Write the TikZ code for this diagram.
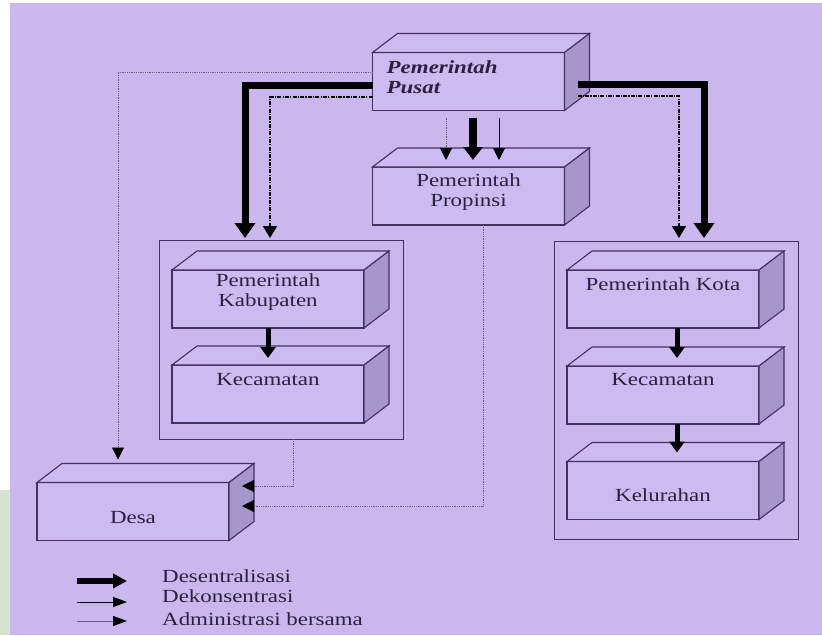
\documentclass[tikz,border=0pt]{standalone}
\usepackage{fontspec}
\setmainfont{Liberation Serif}[FakeStretch=1.24]
\usetikzlibrary{arrows.meta,calc,positioning}
\definecolor{latar}{RGB}{201,183,238}
\definecolor{muka}{RGB}{204,187,240}
\definecolor{sisi}{RGB}{166,150,204}
\definecolor{garis}{RGB}{66,50,96}
\definecolor{huruf}{RGB}{42,33,64}
\definecolor{titik}{RGB}{105,92,128}
\definecolor{hijau}{RGB}{214,226,210}
\tikzset{
    kotak/.style={draw=garis,fill=muka,line width=1.1pt,minimum width=192pt,minimum height=58pt,inner sep=0pt,outer sep=0pt},
    wadah/.style={draw=garis,line width=1pt,inner sep=0pt,outer sep=0pt},
    teks/.style={text=huruf,font=\fontsize{18.5}{20}\selectfont,align=center,inner sep=0pt},
    desen/.style={line width=7pt,-{Triangle[width=20pt,length=15pt]}},
    desenkecil/.style={line width=5pt,-{Triangle[width=15pt,length=11pt]}},
    dekon/.style={line width=1.6pt,dash pattern=on 4pt off 1.2pt on 1.2pt off 1.2pt,-{Triangle[width=14pt,length=12pt]}},
    tipis/.style={line width=1pt,-{Triangle[width=12pt,length=12pt]}},
    admin/.style={titik,line width=0.8pt,densely dotted,-{Triangle[width=12pt,length=12pt,color=black]}}
}
\newcommand{\balok}[1]{%
    \draw[garis,line width=1.1pt,fill=muka] (#1.north west) -- ++(25,-19) -- ($(#1.north east)+(25,-19)$) -- (#1.north east) -- cycle;
    \draw[garis,line width=1.1pt,fill=sisi] (#1.north east) -- ++(25,-19) -- ($(#1.south east)+(25,-19)$) -- (#1.south east) -- cycle;}

\begin{document}
\begin{tikzpicture}[x=1pt,y=-1pt]
    \useasboundingbox (0,0) rectangle (822,635);
    \fill[latar] (0,0) rectangle (822,635);
    \fill[white] (0,0) rectangle (822,3);
    \fill[white] (0,0) rectangle (10,635);
    \fill[hijau] (0,490) rectangle (10,635);

    \node[wadah,minimum width=244pt,minimum height=199pt] (wadahkab) at (281,339.5) {};
    \node[wadah,minimum width=244pt,minimum height=298pt] (wadahkota) at (676,390) {};

    \node[kotak] (pusat) at (468.5,81.5) {};
    \node[kotak] (prop) at (468.5,196) {};
    \node[kotak] (kab) at (268,299) {};
    \node[kotak] (kecL) at (268,394) {};
    \node[kotak] (kota) at (663,299) {};
    \node[kotak] (kecR) at (663,395) {};
    \node[kotak] (kel) at (663,490.5) {};
    \node[kotak] (desa) at (133,511.5) {};
    \foreach \b in {pusat,prop,kab,kecL,kota,kecR,kel,desa} {\balok{\b}}

    \node[teks,anchor=west,align=left,font=\fontsize{18.5}{20}\selectfont\bfseries\itshape] at ([xshift=14pt,yshift=4.5pt]pusat.west) {Pemerintah\\Pusat};
    \node[teks] at ([yshift=3.5pt]prop.center) {Pemerintah\\Propinsi};
    \node[teks] at ([yshift=6.5pt]kab.center) {Pemerintah\\Kabupaten};
    \node[teks] at ([yshift=14pt]kecL.center) {Kecamatan};
    \node[teks] at ([yshift=15pt]kota.center) {Pemerintah Kota};
    \node[teks] at ([yshift=15pt]kecR.center) {Kecamatan};
    \node[teks] at ([yshift=-4.5pt]kel.center) {Kelurahan};
    \node[teks] at ([yshift=-6.5pt]desa.center) {Desa};

    \draw[desen] ([yshift=-3.5pt]pusat.west) -| ([xshift=-36pt,yshift=2pt]wadahkab.north);
    \draw[dekon] ([yshift=-15.5pt]pusat.west) -| ([xshift=-11pt,yshift=2pt]wadahkab.north);
    \draw[desen] ([xshift=13pt,yshift=-2.5pt]pusat.east) -| ([xshift=28pt,yshift=3pt]wadahkota.north);
    \draw[dekon] ([xshift=13pt,yshift=-14.5pt]pusat.east) -| ([xshift=3pt,yshift=3pt]wadahkota.north);
    \draw[admin] ([yshift=9.5pt]pusat.west) -| ([xshift=-15pt,yshift=23pt]desa.north);

    \draw[admin] ([xshift=-22.5pt,yshift=-7pt]pusat.south) -- ([xshift=-22.5pt,yshift=7pt]prop.north);
    \draw[desenkecil,line width=8pt,-{Triangle[width=19pt,length=13pt]}] ([xshift=4.5pt,yshift=-7pt]pusat.south) -- ([xshift=4.5pt,yshift=7pt]prop.north);
    \draw[tipis] ([xshift=30.5pt,yshift=-7pt]pusat.south) -- ([xshift=30.5pt,yshift=7pt]prop.north);

    \draw[desenkecil] (kab.south) -- ([yshift=7pt]kecL.north);
    \draw[desenkecil] ([xshift=14pt]kota.south) -- ([xshift=14pt,yshift=8pt]kecR.north);
    \draw[desenkecil] ([xshift=14pt]kecR.south) -- ([xshift=14pt,yshift=9pt]kel.north);

    \draw[admin] ([xshift=12pt]wadahkab.south) |- ([xshift=13pt,yshift=25.5pt]desa.east);
    \draw[admin] ([xshift=14.5pt]prop.south) |- ([xshift=13pt,yshift=5.5pt]desa.east);

    \node[teks,anchor=base west] (lgdesen) at (162,582) {Desentralisasi};
    \node[teks,anchor=base west] (lgdekon) at (162,602) {Dekonsentrasi};
    \node[teks,anchor=base west] (lgadmin) at (162,625) {Administrasi bersama};
    \draw[line width=6pt,-{Triangle[width=14pt,length=14pt]}] ([xshift=-85pt,yshift=1pt]lgdesen.base west) -- ([xshift=-35pt,yshift=1pt]lgdesen.base west);
    \draw[tipis,-{Triangle[width=10pt,length=14pt]}] ([xshift=-85pt,yshift=0pt]lgdekon.base west) -- ([xshift=-35pt,yshift=0pt]lgdekon.base west);
    \draw[titik,line width=0.8pt,-{Triangle[width=10pt,length=14pt,color=black]}] ([xshift=-85pt,yshift=4pt]lgadmin.base west) -- ([xshift=-35pt,yshift=4pt]lgadmin.base west);
\end{tikzpicture}
\end{document}
